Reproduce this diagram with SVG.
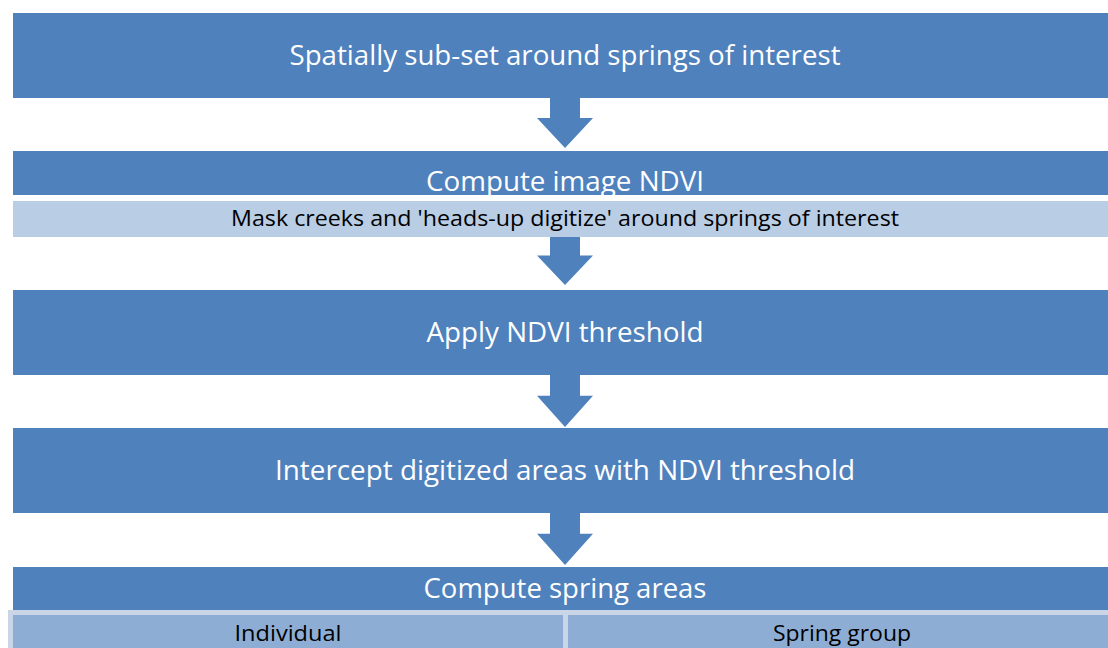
<svg xmlns="http://www.w3.org/2000/svg" width="1108" height="648" viewBox="0 0 1108 648">
<style>
.box{fill:#4f81bd}
.light{fill:#b9cde5}
.cell{fill:#8eadd5}
.arrow{fill:#4f81bd}
.wt{font-family:"Open Sans","Liberation Sans",sans-serif;font-size:27px;fill:#ffffff;text-anchor:middle}
.bt{font-family:"Open Sans","Liberation Sans",sans-serif;font-size:21px;fill:#000000;text-anchor:middle}
</style>
<defs>
<path id="arr" d="M-15,0 L15,0 L15,20 L28,20 L0,50 L-28,20 L-15,20 Z"/>
</defs>
<rect width="1108" height="648" fill="#ffffff"/>
<g id="connectors">
<use href="#arr" class="arrow" transform="translate(565,98) scale(1,1.0)"/>
<use href="#arr" class="arrow" transform="translate(565,236) scale(1,0.98)"/>
<use href="#arr" class="arrow" transform="translate(565,375) scale(1,1.04)"/>
<use href="#arr" class="arrow" transform="translate(565,513) scale(1,1.04)"/>
</g>
<g id="n1">
<rect class="box" x="13" y="13" width="1095" height="85"/>
<text class="wt" x="565" y="65" textLength="551" lengthAdjust="spacingAndGlyphs">Spatially sub-set around springs of interest</text>
</g>
<g id="n2">
<rect class="box" x="13" y="151" width="1095" height="44"/>
<text class="wt" x="565" y="191" textLength="278" lengthAdjust="spacingAndGlyphs">Compute image NDVI</text>
</g>
<g id="n2b">
<rect class="light" x="13" y="201" width="1095" height="36"/>
<text class="bt" x="565" y="226" textLength="668" lengthAdjust="spacingAndGlyphs">Mask creeks and 'heads-up digitize' around springs of interest</text>
</g>
<g id="n3">
<rect class="box" x="13" y="290" width="1095" height="85"/>
<text class="wt" x="565" y="342" textLength="277" lengthAdjust="spacingAndGlyphs">Apply NDVI threshold</text>
</g>
<g id="n4">
<rect class="box" x="13" y="428" width="1095" height="85"/>
<text class="wt" x="565" y="480" textLength="580" lengthAdjust="spacingAndGlyphs">Intercept digitized areas with NDVI threshold</text>
</g>
<g id="n5">
<rect class="box" x="13" y="567" width="1095" height="43"/>
<text class="wt" x="565" y="598" textLength="283" lengthAdjust="spacingAndGlyphs">Compute spring areas</text>
</g>
<g id="n6">
<rect x="8" y="610" width="1100" height="38" fill="#cbd5e8"/>
<rect class="cell" x="13" y="615" width="550" height="33"/>
<text class="bt" x="288" y="641" textLength="107" lengthAdjust="spacingAndGlyphs">Individual</text>
</g>
<g id="n7">
<rect class="cell" x="568" y="615" width="540" height="33"/>
<text class="bt" x="842" y="641" textLength="138" lengthAdjust="spacingAndGlyphs">Spring group</text>
</g>
</svg>
